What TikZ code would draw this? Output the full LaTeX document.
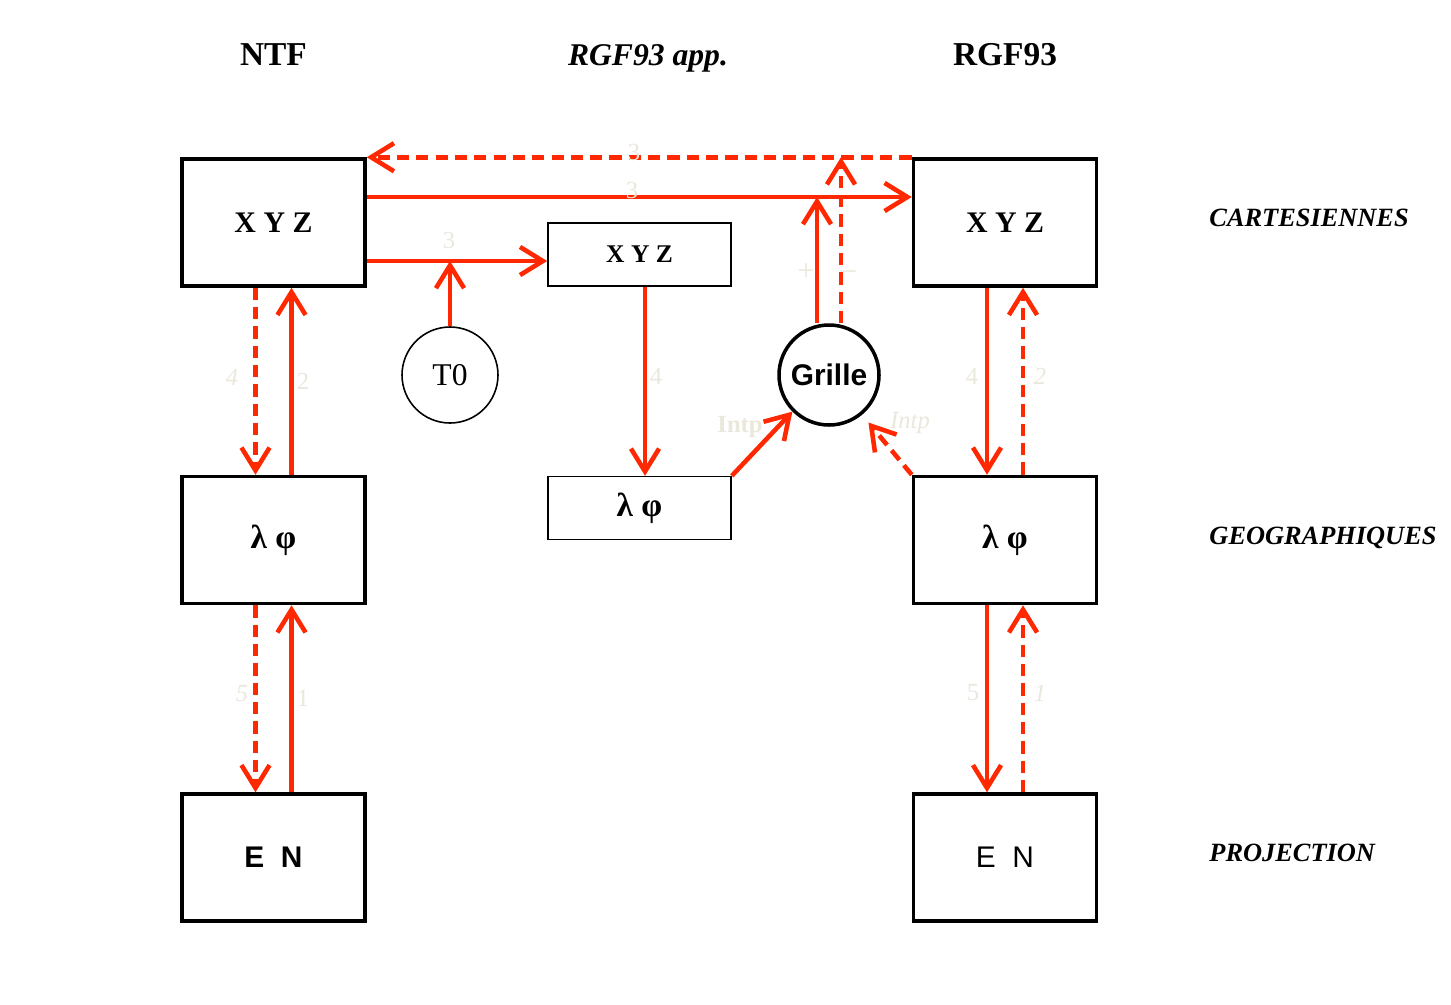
\documentclass[tikz,border=0pt]{standalone}
\usepackage{fontspec}
\setmainfont{Liberation Serif}
\newfontfamily\sansfont{Liberation Sans}
\usetikzlibrary{positioning, arrows.meta}

\definecolor{linkred}{RGB}{255,40,0}
\definecolor{faintgray}{RGB}{234,231,219}

\begin{document}
\begin{tikzpicture}[
    % Define common styles
        node distance=3.74cm,
        bigbox/.style={draw, rectangle, line width=2pt, minimum width=3.66cm, minimum height=2.54cm, inner sep=0pt},
        smallbox/.style={draw, rectangle, line width=0.9pt, minimum width=3.66cm, minimum height=1.26cm, inner sep=0pt},
        coltitle/.style={font=\fontsize{19}{22}\selectfont\bfseries},
        rowtitle/.style={font=\fontsize{15}{18}\selectfont\bfseries\itshape},
        boxtext/.style={font=\fontsize{17}{20}\selectfont\bfseries},
        greektext/.style={font=\fontsize{19}{22}\selectfont\bfseries},
        faint/.style={text=faintgray, font=\fontsize{14}{16}\selectfont},
        faintit/.style={text=faintgray, font=\fontsize{14}{16}\selectfont\itshape},
        faintbf/.style={text=faintgray, font=\fontsize{14}{16}\selectfont\bfseries},
        link/.style={-{Straight Barb[length=13pt,width=16pt]}, line width=2.6pt, draw=linkred},
        dashlink/.style={link, dash pattern=on 7pt off 4pt}
    ]

        \useasboundingbox (0,0) rectangle (29.02,-20.08);

        % NTF column
        \node[bigbox, boxtext] (ntfxyz) at (5.47,-4.45) {X Y Z};
        \node[bigbox, greektext, below=of ntfxyz] (ntfgeo) {λ φ};
        \node[bigbox, below=of ntfgeo, font=\sansfont\fontsize{17}{20}\selectfont\bfseries] (ntfproj) {E~~N};

        % RGF93 app. column
        \node[smallbox, font=\fontsize{14.5}{17}\selectfont\bfseries] (appxyz) at (12.79,-5.09) {X Y Z};
        \node[smallbox, greektext, below=3.78cm of appxyz] (appgeo) {λ φ};

        % RGF93 column
        \node[bigbox, boxtext] (rgfxyz) at (20.10,-4.45) {X Y Z};
        \node[bigbox, greektext, below=of rgfxyz] (rgfgeo) {λ φ};
        \node[bigbox, below=of rgfgeo, font=\sansfont\fontsize{17}{20}\selectfont] (rgfproj) {E~~N};

        % Circles
        \node[circle, draw, line width=0.9pt, minimum size=1.92cm, inner sep=0pt, font=\fontsize{18}{20}\selectfont] (t0) at (9.0,-7.5) {T0};
        \node[circle, draw, line width=2pt, minimum size=2.0cm, inner sep=0pt, font=\sansfont\fontsize{17}{20}\selectfont\bfseries] (grille) at (16.58,-7.5) {Grille};

        % Column titles
        \node[coltitle, above=1.71cm of ntfxyz] (ntftitle) {NTF};
        \node[coltitle, above=1.71cm of rgfxyz] (rgftitle) {RGF93};
        \node[coltitle, font=\fontsize{18}{21}\selectfont\bfseries\itshape, anchor=base, xshift=0.17cm] (apptitle) at (ntftitle.base -| appxyz) {RGF93 app.};

        % Row titles
        \node[rowtitle, right=2.1cm of rgfxyz, yshift=0.09cm] (carttitle) {CARTESIENNES};
        \node[rowtitle, right=2.1cm of rgfgeo, yshift=0.04cm] (geotitle) {GEOGRAPHIQUES};
        \node[rowtitle, right=2.1cm of rgfproj, yshift=0.1cm] (projtitle) {PROJECTION};

        % Horizontal links between XYZ
        \coordinate[yshift=0.51cm] (xyzlink) at (ntfxyz.east);
        \coordinate[yshift=-0.77cm] (t0link) at (ntfxyz.east);
        \draw[dashlink] (rgfxyz.north west) -- (ntfxyz.north east);
        \draw[link] (xyzlink) -- (xyzlink -| rgfxyz.west);
        \draw[link] (t0link) -- (t0link -| appxyz.west);
        \draw[link] (t0) -- (t0 |- t0link);

        % Grille links
        \draw[link] ([xshift=-0.24cm]grille.north) -- ([xshift=-0.24cm]grille.north |- xyzlink);
        \draw[dashlink] ([xshift=0.24cm]grille.north) -- ([xshift=0.24cm]grille.north |- ntfxyz.north east);
        \draw[link] (appgeo.north east) -- (grille.south west);
        \draw[dashlink, shorten >=0.2cm] (rgfgeo.north west) -- (grille);

        % NTF vertical links
        \draw[dashlink] ([xshift=-0.36cm]ntfxyz.south) -- ([xshift=-0.36cm]ntfgeo.north);
        \draw[link] ([xshift=0.36cm]ntfgeo.north) -- ([xshift=0.36cm]ntfxyz.south);
        \draw[dashlink] ([xshift=-0.36cm]ntfgeo.south) -- ([xshift=-0.36cm]ntfproj.north);
        \draw[link] ([xshift=0.36cm]ntfproj.north) -- ([xshift=0.36cm]ntfgeo.south);

        % RGF93 app. vertical link
        \draw[link] ([xshift=0.11cm]appxyz.south) -- ([xshift=0.11cm]appgeo.north);

        % RGF93 vertical links
        \draw[link] ([xshift=-0.36cm]rgfxyz.south) -- ([xshift=-0.36cm]rgfgeo.north);
        \draw[dashlink] ([xshift=0.36cm]rgfgeo.north) -- ([xshift=0.36cm]rgfxyz.south);
        \draw[link] ([xshift=-0.36cm]rgfgeo.south) -- ([xshift=-0.36cm]rgfproj.north);
        \draw[dashlink] ([xshift=0.36cm]rgfproj.north) -- ([xshift=0.36cm]rgfgeo.south);

        % Faint step labels
        \node[faint] (step3a) at (12.68,-3.04) {3};
        \node[faint] (step3b) at (12.64,-3.80) {3};
        \node[faint] (step3c) at (8.98,-4.80) {3};
        \node[faint, font=\fontsize{17}{18}\selectfont] (plus) at (16.12,-5.44) {+};
        \node[faint, font=\fontsize{17}{18}\selectfont] (minus) at (16.96,-5.50) {–};
        \node[faintit] (step4a) at (4.64,-7.54) {4};
        \node[faint] (step2a) at (6.06,-7.62) {2};
        \node[faint] (step4b) at (13.12,-7.52) {4};
        \node[faint] (step4c) at (19.44,-7.52) {4};
        \node[faintit] (step2b) at (20.80,-7.52) {2};
        \node[faintbf] (intpa) at (14.80,-8.54) {Intp};
        \node[faintit] (intpb) at (18.20,-8.46) {Intp};
        \node[faintit] (step5a) at (4.84,-13.88) {5};
        \node[faint] (step1a) at (6.06,-13.96) {1};
        \node[faint] (step5b) at (19.46,-13.86) {5};
        \node[faintit] (step1b) at (20.80,-13.86) {1};

    \end{tikzpicture}
\end{document}
